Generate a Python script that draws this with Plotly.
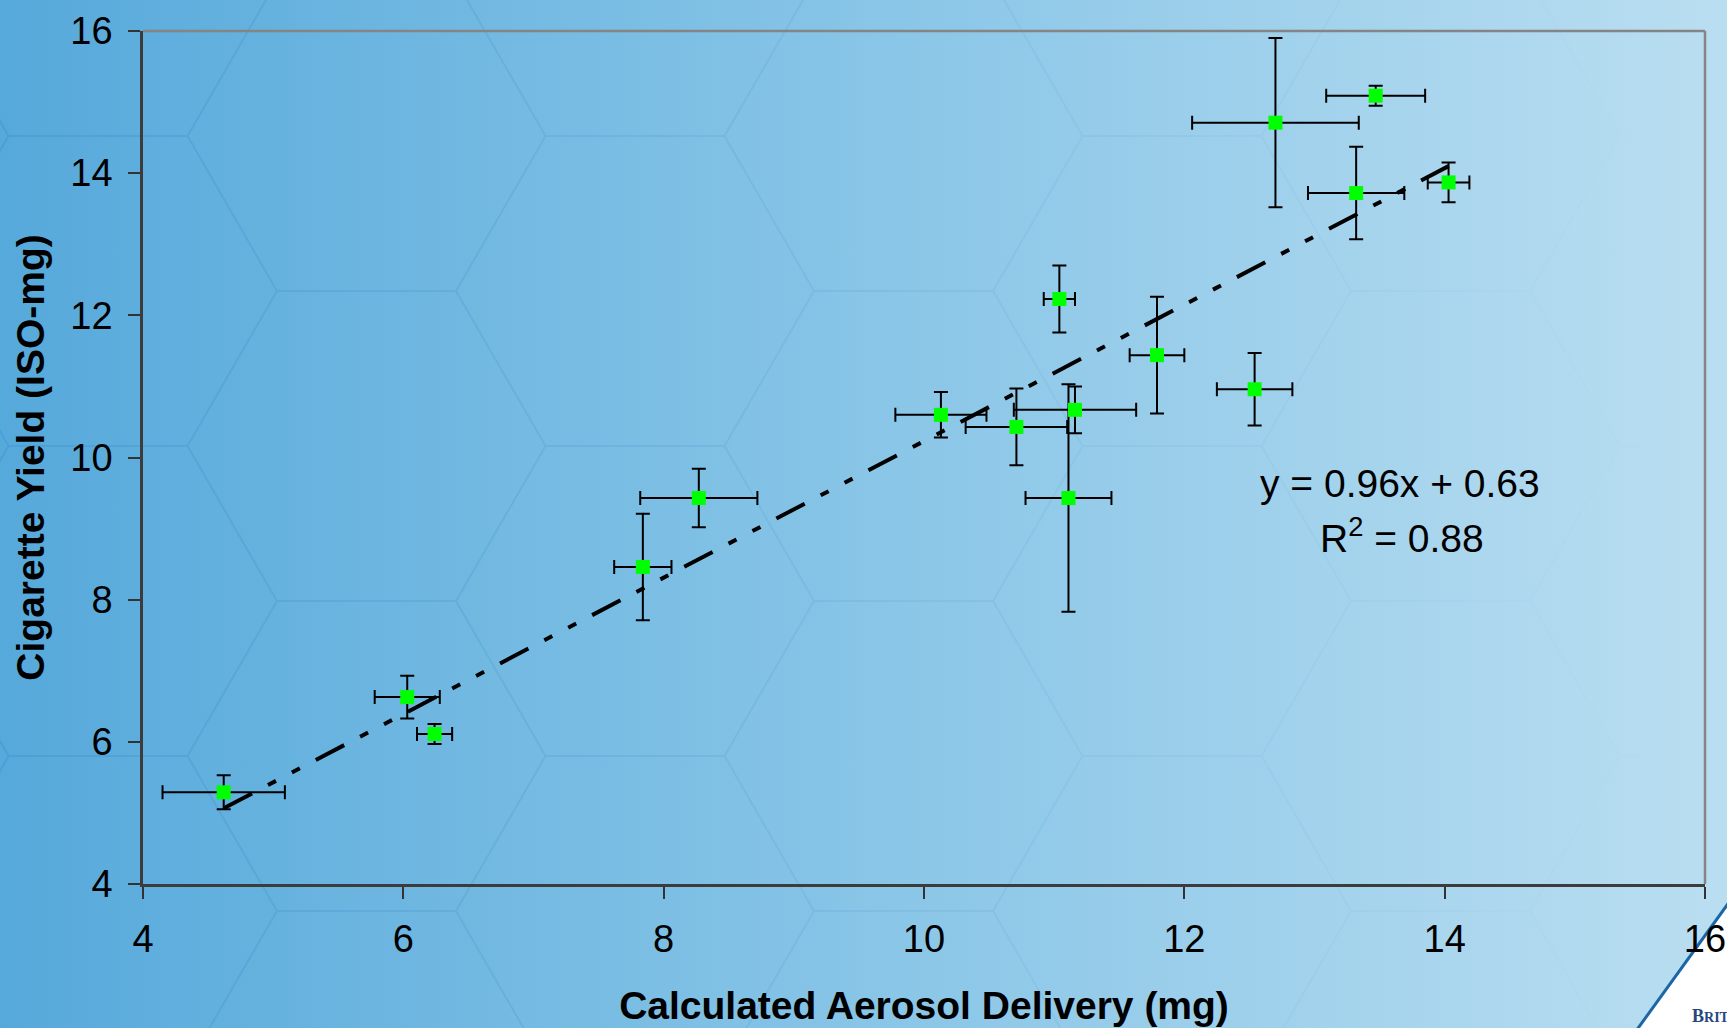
import base64
import plotly.graph_objects as go

# Measured delivery vs. ISO yield, one entry per cigarette product
aerosol_mg = [4.62, 6.03, 6.24, 7.84, 8.27, 10.13, 10.71, 11.16,
              11.11, 11.04, 11.79, 12.54, 12.70, 13.47, 13.32, 14.03]
yield_mg = [5.29, 6.63, 6.11, 8.46, 9.43, 10.60, 10.43, 10.67,
            9.43, 12.23, 11.44, 10.96, 14.71, 15.09, 13.72, 13.87]
aerosol_err = [0.47, 0.25, 0.135, 0.22, 0.45, 0.35, 0.39, 0.47,
               0.33, 0.12, 0.21, 0.29, 0.64, 0.38, 0.37, 0.16]
yield_err = [0.24, 0.30, 0.14, 0.75, 0.41, 0.32, 0.54, 0.33,
             1.60, 0.47, 0.82, 0.51, 1.19, 0.14, 0.65, 0.28]

# Linear fit reported on the chart
trend_slope = 0.96
trend_intercept = 0.63
r_squared = 0.88

axis_ticks = [4, 6, 8, 10, 12, 14, 16]

W, H = 1727, 1028
ML, MR, MT, MB = 143, 22, 31, 144
plot_w = W - ML - MR
plot_h = H - MT - MB
FONT = "Liberation Sans, Arial, sans-serif"


def slide_background():
    """Blue gradient slide with a faint honeycomb and the corner logo swoosh."""
    hex_r, hex_h = 179.0, 155.0
    paths = []
    for k in range(-1, 8):
        cx = 98 + 268.5 * k
        y0 = -19 if k % 2 == 0 else 136
        for j in range(-1, 5):
            cy = y0 + 310 * j
            pts = [(cx - hex_r, cy), (cx - hex_r / 2, cy - hex_h),
                   (cx + hex_r / 2, cy - hex_h), (cx + hex_r, cy),
                   (cx + hex_r / 2, cy + hex_h), (cx - hex_r / 2, cy + hex_h)]
            paths.append("M" + " L".join(f"{x:.1f},{y:.1f}" for x, y in pts) + " Z")
    svg = f"""<svg xmlns="http://www.w3.org/2000/svg" width="{W}" height="{H}" viewBox="0 0 {W} {H}">
<defs>
<linearGradient id="bg" x1="0" y1="0" x2="1" y2="0">
<stop offset="0" stop-color="#56A9DB"/>
<stop offset="0.5" stop-color="#88C5E7"/>
<stop offset="1" stop-color="#BADEF1"/>
</linearGradient>
<linearGradient id="hx" gradientUnits="userSpaceOnUse" x1="0" y1="0" x2="{W}" y2="0">
<stop offset="0" stop-color="#2A7DBE" stop-opacity="0.22"/>
<stop offset="0.45" stop-color="#2A7DBE" stop-opacity="0.12"/>
<stop offset="0.8" stop-color="#2A7DBE" stop-opacity="0.04"/>
<stop offset="1" stop-color="#2A7DBE" stop-opacity="0.0"/>
</linearGradient>
</defs>
<rect width="{W}" height="{H}" fill="url(#bg)"/>
<path d="{' '.join(paths)}" fill="none" stroke="url(#hx)" stroke-width="2"/>
<path d="M1638,1030 L1729,904 L1729,1030 Z" fill="#FFFFFF"/>
<path d="M1636,1031 L1730,901" fill="none" stroke="#1A66A6" stroke-width="3"/>
</svg>"""
    return "data:image/svg+xml;base64," + base64.b64encode(svg.encode()).decode()


fig = go.Figure()

fig.add_trace(go.Scatter(
    x=aerosol_mg, y=yield_mg, mode="markers",
    marker=dict(symbol="square", size=14, color="#00FF00", line=dict(width=0)),
    error_x=dict(type="data", array=aerosol_err, color="black", thickness=2, width=7),
    error_y=dict(type="data", array=yield_err, color="black", thickness=2, width=7),
    showlegend=False,
))

x_lo, x_hi = min(aerosol_mg), max(aerosol_mg)
fig.add_trace(go.Scatter(
    x=[x_lo, x_hi],
    y=[trend_slope * x_lo + trend_intercept, trend_slope * x_hi + trend_intercept],
    mode="lines",
    line=dict(color="black", width=4, dash="32px,18px,9px,18px,9px,18px"),
    showlegend=False,
))

tick_font = dict(family=FONT, size=38, color="black")
title_font = dict(family=FONT, size=39, color="black", weight="bold")


def px_to_paper(px, py):
    """Pixel position on the page -> paper coordinates of the plot area."""
    return (px - ML) / plot_w, (H - MB - py) / plot_h


logo_x, logo_y = px_to_paper(1690, 1016)

fig.update_layout(
    width=W, height=H,
    margin=dict(l=ML, r=MR, t=MT, b=MB, pad=0),
    paper_bgcolor="rgba(0,0,0,0)",
    plot_bgcolor="rgba(0,0,0,0)",
    showlegend=False,
    images=[dict(source=slide_background(), xref="paper", yref="paper",
                 x=-ML / plot_w, y=1 + MT / plot_h,
                 sizex=W / plot_w, sizey=H / plot_h,
                 xanchor="left", yanchor="top", sizing="stretch", layer="below")],
    xaxis=dict(range=[4, 16], tickvals=axis_ticks, ticks="outside", ticklen=12,
               tickwidth=1.5, tickcolor="#333333", showline=True, linecolor="#3C3C3C",
               linewidth=2.5, showgrid=False, zeroline=False, tickfont=tick_font,
               ticklabelstandoff=8, automargin=False,
               title=dict(text="Calculated Aerosol Delivery (mg)", font=title_font, standoff=33)),
    yaxis=dict(range=[4, 16], tickvals=axis_ticks, ticks="outside", ticklen=12,
               tickwidth=1.5, tickcolor="#333333", showline=True, linecolor="#3C3C3C",
               linewidth=2.5, showgrid=False, zeroline=False, tickfont=tick_font,
               ticklabelstandoff=8, automargin=False,
               title=dict(text="Cigarette Yield (ISO-mg)", font=title_font, standoff=14)),
    shapes=[
        dict(type="line", xref="paper", yref="paper", x0=0, x1=1, y0=1, y1=1,
             line=dict(color="#858585", width=2.5)),
        dict(type="line", xref="paper", yref="paper", x0=1, x1=1, y0=0, y1=1,
             line=dict(color="#858585", width=2.5)),
    ],
    annotations=[
        dict(x=13.66, y=9.63, xref="x", yref="y", showarrow=False,
             text=f"y = {trend_slope:.2f}x + {trend_intercept:.2f}",
             font=dict(family=FONT, size=39, color="black"), xanchor="center", yanchor="middle"),
        dict(x=13.67, y=8.9, xref="x", yref="y", showarrow=False,
             text=f"R<sup>2</sup> = {r_squared:.2f}",
             font=dict(family=FONT, size=39, color="black"), xanchor="center", yanchor="middle"),
        dict(x=logo_x, y=logo_y, xref="paper", yref="paper", showarrow=False,
             text="B<span style='font-size:14px'>RIT</span>",
             font=dict(family="Liberation Serif, DejaVu Serif, serif", size=18, color="#27467F",
                       weight="bold"),
             xanchor="left", yanchor="middle"),
    ],
)

fig.write_html("out.html")
